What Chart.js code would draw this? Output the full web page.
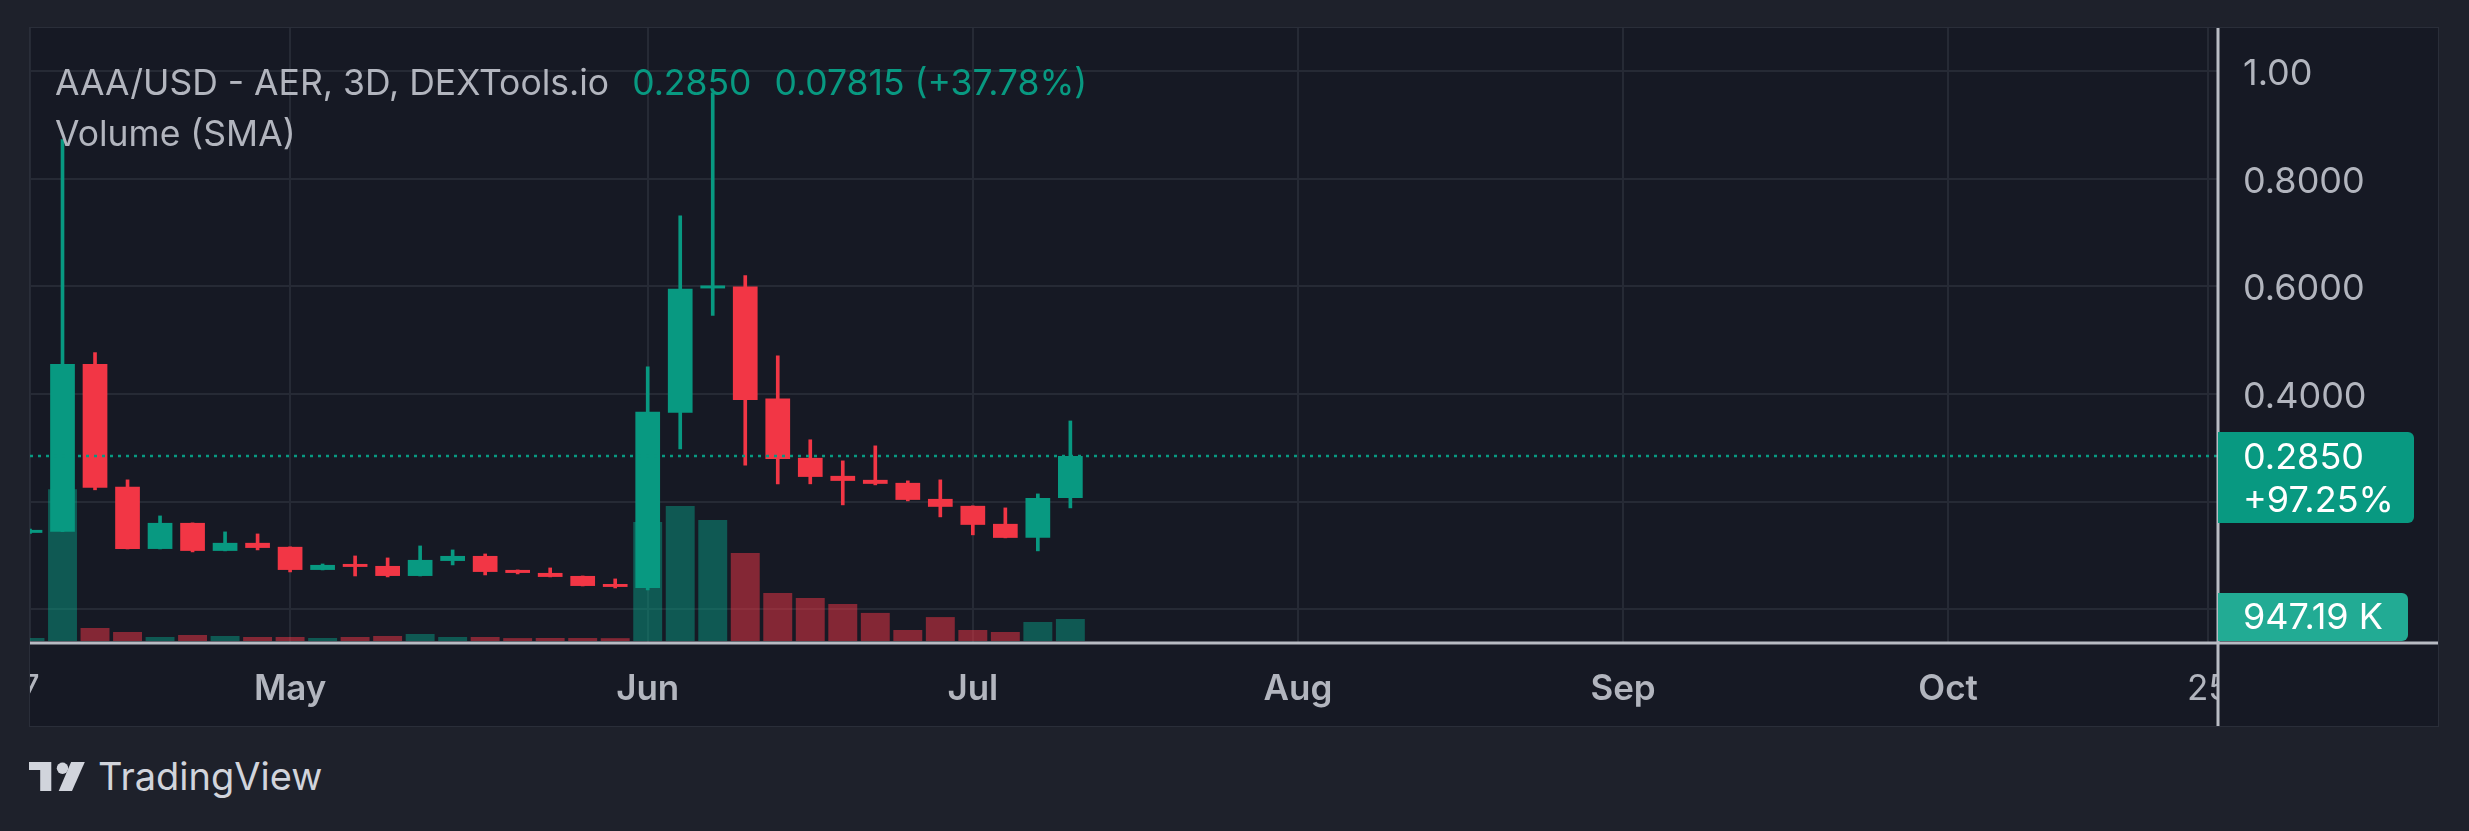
<!DOCTYPE html>
<html>
<head>
<meta charset="utf-8">
<script src="https://cdn.jsdelivr.net/npm/chart.js@4.4.1/dist/chart.umd.min.js"></script>
<style>
  html, body { margin: 0; padding: 0; width: 2469px; height: 831px; overflow: hidden; background: #1e212b; font-family: Inter, "Noto Sans", sans-serif; }
  #panel { position: absolute; left: 29px; top: 27px; width: 2410px; height: 700px; box-sizing: border-box; border: 1px solid #2a2e39; background: #161924; }
  #wrap { position: absolute; left: 30px; top: 28px; width: 2408px; height: 698px; }
  #legend { position: absolute; left: 55px; top: 57px; font-size: 35.5px; line-height: 51px; color: #b2b5be; white-space: nowrap; pointer-events: none; }
  #legend .g { color: #089981; }
  #logo { position: absolute; left: 29px; top: 757px; display: flex; align-items: flex-start; color: #d1d4dc; }
  #logo svg { margin-top: 5px; }
  #logo span { font-size: 38px; line-height: 38px; margin-left: 13px; }
</style>
</head>
<body>
<div id="panel"></div>
<div id="wrap"><canvas id="chart"></canvas></div>
<div id="legend">
  <div>AAA/USD - AER, 3D, DEXTools.io<span class="g" style="margin-left:23px">0.2850</span><span class="g" style="margin-left:23px">0.07815 (+37.78%)</span></div>
  <div>Volume (SMA)</div>
</div>
<div id="logo">
  <svg width="56" height="29" viewBox="0 0 56 29">
    <path d="M0 0H22.3V29H11.2V8H0Z" fill="#d1d4dc"/>
    <circle cx="33.5" cy="6.3" r="5.7" fill="#d1d4dc"/>
    <path d="M42.1 0H55.8L43 29H29.7Z" fill="#d1d4dc"/>
  </svg>
  <span>TradingView</span>
</div>
<script>
// 3D candles, one slot per bar (index 0 = Apr 7)
const opens  = [0.1420, 0.1440, 0.456, 0.2275, 0.1121, 0.1605, 0.1085, 0.1234, 0.1160, 0.0731, 0.0842, 0.0805, 0.0619, 0.0898, 0.0991, 0.0731, 0.0675,
                0.0619, 0.0470, 0.0396, 0.365, 0.5963, 0.600, 0.3917, 0.2814, 0.2479, 0.2405, 0.2349, 0.2051, 0.1922, 0.1587, 0.1327, 0.2069];
const highs  = [0.1490, 0.873, 0.477, 0.2405, 0.1735, 0.1605, 0.1438, 0.1400, 0.1160, 0.0842, 0.0991, 0.0954, 0.1177, 0.1103, 0.1028, 0.0731, 0.0768,
                0.0619, 0.0564, 0.4506, 0.7314, 0.960, 0.620, 0.471, 0.315, 0.2758, 0.3037, 0.2386, 0.2405, 0.1922, 0.1884, 0.2144, 0.350];
const lows   = [0.1410, 0.1440, 0.222, 0.1121, 0.1121, 0.1066, 0.1085, 0.1103, 0.0694, 0.0731, 0.0619, 0.0601, 0.0619, 0.0824, 0.0638, 0.0657, 0.0601,
                0.0433, 0.0396, 0.0359, 0.298, 0.546, 0.268, 0.2331, 0.2331, 0.194, 0.2312, 0.2014, 0.1717, 0.1383, 0.1327, 0.1085, 0.1884];
const closes = [0.1475, 0.456, 0.226, 0.1121, 0.1605, 0.1085, 0.1234, 0.1140, 0.0731, 0.0824, 0.0787, 0.0619, 0.0917, 0.0991, 0.0694, 0.0675, 0.0601,
                0.0433, 0.0415, 0.367, 0.5957, 0.6018, 0.389, 0.2795, 0.2460, 0.2386, 0.2331, 0.2033, 0.1904, 0.1569, 0.1327, 0.2070, 0.2850];
const volumes = [129000, 6540000, 560000, 387000, 172000, 258000, 215000, 172000, 172000, 129000, 172000, 215000, 301000, 172000, 172000, 125000, 130000,
                 128000, 122000, 5120000, 5810000, 5210000, 3790000, 2070000, 1850000, 1590000, 1210000, 474000, 1030000, 474000, 387000, 818000, 947190];

// time axis: bar slot of each label
const tickIdx = [0, 8, 19, 29, 39, 49, 59, 67];
const tickLabels = ['7', 'May', 'Jun', 'Jul', 'Aug', 'Sep', 'Oct', '25'];
const priceTicks = [0, 0.2, 0.4, 0.6, 0.8, 1.0];

const up = '#089981', down = '#f23645';
const upVol = 'rgba(8,153,129,0.5)', downVol = 'rgba(242,54,69,0.5)';
const panelBg = '#161924';
const font = 'Inter, "Noto Sans", sans-serif';

const isUp = opens.map((o, i) => closes[i] >= o);
const bodies = opens.map((o, i) => ({ x: i, y: [o, closes[i]] }));
const wicks = lows.map((l, i) => ({ x: i, y: [l, highs[i]] }));
const vols = volumes.map((v, i) => ({ x: i, y: v }));

// last price / volume labels on the price axis
const overlay = {
  id: 'overlay',
  afterDraw(chart) {
    const { ctx, chartArea: a, scales } = chart;
    const W = chart.width, H = chart.height;
    const last = closes.length - 1;
    ctx.save();
    ctx.fillStyle = panelBg;
    ctx.fillRect(a.right, a.bottom, W - a.right, H - a.bottom);

    const py = scales.y.getPixelForValue(closes[last]);
    ctx.strokeStyle = up;
    ctx.lineWidth = 2.5;
    ctx.setLineDash([3, 5]);
    ctx.beginPath();
    ctx.moveTo(a.left, py);
    ctx.lineTo(a.right, py);
    ctx.stroke();
    ctx.setLineDash([]);

    ctx.strokeStyle = '#b8bbc3';
    ctx.lineWidth = 3;
    ctx.beginPath();
    ctx.moveTo(0, a.bottom);
    ctx.lineTo(W, a.bottom);
    ctx.moveTo(a.right, 0);
    ctx.lineTo(a.right, H);
    ctx.stroke();

    ctx.font = '36px ' + font;
    ctx.textBaseline = 'middle';
    ctx.textAlign = 'left';

    ctx.fillStyle = up;
    ctx.beginPath();
    ctx.roundRect(a.right, py - 24, 196, 91, [0, 6, 6, 0]);
    ctx.fill();
    ctx.fillStyle = '#ffffff';
    ctx.fillText('0.2850', a.right + 25, py + 2);
    ctx.fillText('+97.25%', a.right + 25, py + 45);

    const vy = scales.v.getPixelForValue(volumes[last]);
    ctx.fillStyle = '#22ab94';
    ctx.beginPath();
    ctx.roundRect(a.right, vy - 26, 190, a.bottom - 2 - (vy - 26), [0, 6, 6, 0]);
    ctx.fill();
    ctx.fillStyle = '#ffffff';
    ctx.fillText('947.19 K', a.right + 25, vy - 1);
    ctx.restore();
  }
};

new Chart(document.getElementById('chart'), {
  type: 'bar',
  data: {
    datasets: [
      {
        label: 'Volume', data: vols, yAxisID: 'v', order: 3, grouped: false,
        backgroundColor: isUp.map(u => u ? upVol : downVol),
        barPercentage: 0.89, categoryPercentage: 1
      },
      {
        label: 'Wick', data: wicks, yAxisID: 'y', order: 2, grouped: false,
        backgroundColor: isUp.map(u => u ? up : down),
        maxBarThickness: 3, barPercentage: 1, categoryPercentage: 1
      },
      {
        label: 'Body', data: bodies, yAxisID: 'y', order: 1, grouped: false,
        backgroundColor: isUp.map(u => u ? up : down),
        barPercentage: 0.76, categoryPercentage: 1
      }
    ]
  },
  options: {
    responsive: true,
    maintainAspectRatio: false,
    animation: false,
    layout: { padding: 0 },
    plugins: { legend: { display: false }, tooltip: { enabled: false } },
    scales: {
      x: {
        type: 'linear',
        min: 0,
        max: 67.3,
        bounds: 'data',
        offset: false,
        afterBuildTicks: s => { s.ticks = tickIdx.map(v => ({ value: v })); },
        afterFit: s => { s.height = 83; s.paddingLeft = 0; s.paddingRight = 0; },
        grid: { color: '#262a35', lineWidth: 2, drawTicks: false, offset: false },
        border: { display: false },
        ticks: {
          autoSkip: false,
          maxRotation: 0,
          padding: 25,
          color: '#b2b5be',
          font: c => ({ family: font, size: 35, weight: /^\d/.test(c.tick ? c.tick.label : '') ? 400 : 600 }),
          callback: v => tickLabels[tickIdx.indexOf(v)]
        }
      },
      y: {
        position: 'right',
        min: -0.0627,
        max: 1.0803,
        afterBuildTicks: s => { s.ticks = priceTicks.map(v => ({ value: v })); },
        afterFit: s => { s.width = 220; s.paddingTop = 0; s.paddingBottom = 0; },
        grid: { color: '#262a35', lineWidth: 2, drawTicks: false },
        border: { display: false },
        ticks: {
          padding: 25,
          labelOffset: 3,
          color: '#b2b5be',
          font: { family: font, size: 36 },
          callback: v => v >= 1 ? v.toFixed(2) : (v > 0.3 ? v.toFixed(4) : '')
        }
      },
      v: {
        display: false,
        min: -86000,
        max: 26400000
      }
    }
  },
  plugins: [overlay]
});
</script>
</body>
</html>
